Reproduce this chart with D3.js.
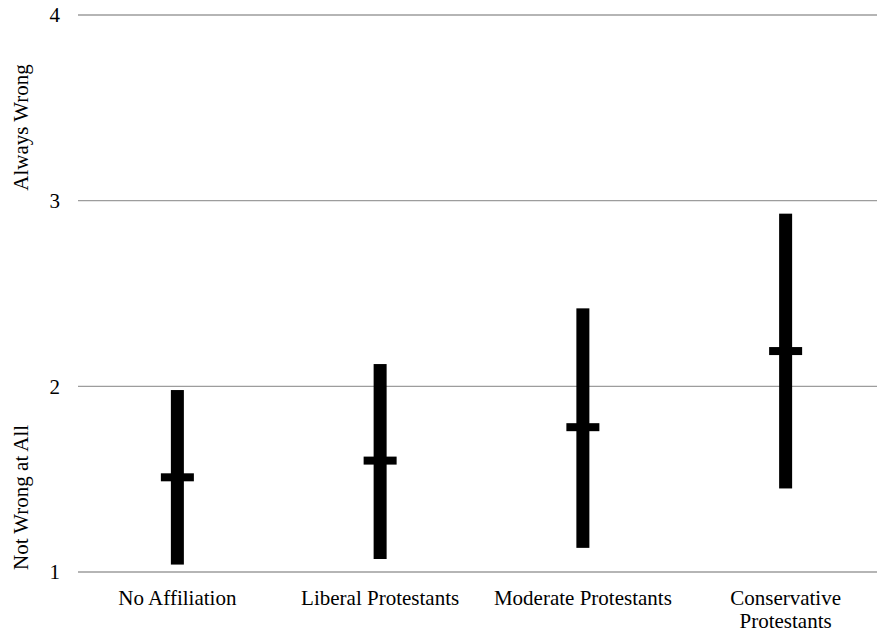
<!DOCTYPE html>
<html>
<head>
<meta charset="utf-8">
<script src="https://cdn.jsdelivr.net/npm/d3@7"></script>
<style>
  html, body { margin: 0; padding: 0; background: #fff; }
  svg text { font-family: "Liberation Serif", "Times New Roman", serif; fill: #000; }
</style>
</head>
<body>
<svg id="chart" width="877" height="635"></svg>
<script>
// Attitude by religious affiliation: range (low–high) and mean per group
const categories = ["No Affiliation", "Liberal Protestants", "Moderate Protestants", "Conservative Protestants"];
const categoryLines = [["No Affiliation"], ["Liberal Protestants"], ["Moderate Protestants"], ["Conservative", "Protestants"]];
const lowValues  = [1.04, 1.07, 1.13, 1.45];
const highValues = [1.98, 2.12, 2.42, 2.93];
const meanValues = [1.51, 1.60, 1.78, 2.19];
const yTicks = [1, 2, 3, 4];
const yTitleLow = "Not Wrong at All";
const yTitleHigh = "Always Wrong";

const svg = d3.select("#chart");
const fontSize = 21;

const x = d3.scaleBand().domain(categories).range([76, 887]).padding(0);
const y = d3.scaleLinear().domain([1, 4]).range([572, 15]);
const cx = c => x(c) + x.bandwidth() / 2;

// horizontal gridlines
svg.append("g").selectAll("line").data(yTicks).join("line")
  .attr("x1", 78).attr("x2", 877)
  .attr("y1", d => y(d)).attr("y2", d => y(d))
  .attr("stroke", "#9d9d9d").attr("stroke-width", 1.4);

// y tick labels
svg.append("g").selectAll("text").data(yTicks).join("text")
  .attr("x", 60).attr("y", d => y(d))
  .attr("dy", "0.35em")
  .attr("text-anchor", "end")
  .attr("font-size", fontSize)
  .text(d => d);

// y-axis anchor titles
svg.append("text")
  .attr("transform", `translate(28,${y(1) - 2}) rotate(-90)`)
  .attr("text-anchor", "start")
  .attr("font-size", fontSize)
  .text(yTitleLow);
svg.append("text")
  .attr("transform", `translate(28,${y(3) - 10}) rotate(-90)`)
  .attr("text-anchor", "start")
  .attr("font-size", fontSize)
  .text(yTitleHigh);

// range bars
const rows = categories.map((c, i) => ({ c, lo: lowValues[i], hi: highValues[i], m: meanValues[i] }));
const barW = 13, tickW = 33, tickH = 8;

svg.append("g").selectAll("rect").data(rows).join("rect")
  .attr("x", d => cx(d.c) - barW / 2)
  .attr("width", barW)
  .attr("y", d => y(d.hi))
  .attr("height", d => y(d.lo) - y(d.hi))
  .attr("fill", "#000");

// mean markers
svg.append("g").selectAll("rect").data(rows).join("rect")
  .attr("x", d => cx(d.c) - tickW / 2)
  .attr("width", tickW)
  .attr("y", d => y(d.m) - tickH / 2)
  .attr("height", tickH)
  .attr("fill", "#000");

// category labels (wrapped lines stacked downward)
const lab = svg.append("g").selectAll("text").data(categories).join("text")
  .attr("x", d => cx(d))
  .attr("y", 605)
  .attr("text-anchor", "middle")
  .attr("font-size", fontSize);
lab.each(function (d, i) {
  d3.select(this).selectAll("tspan").data(categoryLines[i]).join("tspan")
    .attr("x", cx(d))
    .attr("dy", (t, j) => j === 0 ? 0 : 23)
    .text(t => t);
});
</script>
</body>
</html>
